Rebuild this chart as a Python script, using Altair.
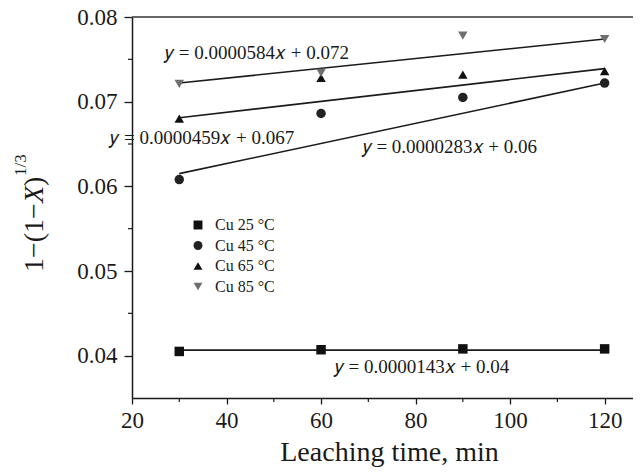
import altair as alt
import pandas as pd

SERIF = "Liberation Serif"
INK = "#1a1a1a"

# ---- data ----
times = [30, 60, 90, 120]
series = ["Cu 25 °C", "Cu 45 °C", "Cu 65 °C", "Cu 85 °C"]
cu25 = [0.0405, 0.0407, 0.0408, 0.0408]
cu45 = [0.0608, 0.0686, 0.0705, 0.0722]
cu65 = [0.0680, 0.0728, 0.0732, 0.0736]
cu85 = [0.0721, 0.0734, 0.0778, 0.0774]

# fitted lines (end points as drawn)
fit_x = [30, 120]
fit25 = [0.04065, 0.04065]
fit45 = [0.0615, 0.0722]
fit65 = [0.0681, 0.0739]
fit85 = [0.0722, 0.0774]

# equation labels
eq_text = [
    "𝑦 = 0.0000143𝑥 + 0.04",
    "𝑦 = 0.0000283𝑥 + 0.06",
    "𝑦 = 0.0000459𝑥 + 0.067",
    "𝑦 = 0.0000584𝑥 + 0.072",
]
eq_x = [62.9, 68.8, 15.4, 27.0]
eq_y = [0.03866, 0.06467, 0.0657, 0.07574]

x_ticks = [20, 40, 60, 80, 100, 120]
x_minor = [30, 50, 70, 90, 110]
y_ticks = [0.04, 0.05, 0.06, 0.07, 0.08]
y_minor = [0.045, 0.055, 0.065, 0.075]

X_DOMAIN = [20, 126]
Y_DOMAIN = [0.035, 0.08]
W, H = 501, 381

# ---- tables ----
vals = [cu25, cu45, cu65, cu85]
pts = pd.DataFrame(
    [{"t": t, "v": v, "s": s} for s, vs in zip(series, vals) for t, v in zip(times, vs)]
)
fits = [fit25, fit45, fit65, fit85]
lines = pd.DataFrame(
    [{"t": t, "v": v, "s": s} for s, fs in zip(series, fits) for t, v in zip(fit_x, fs)]
)
eqs = pd.DataFrame({"x": eq_x, "y": eq_y, "txt": eq_text})

xs = alt.Scale(domain=X_DOMAIN, nice=False, zero=False)
ys = alt.Scale(domain=Y_DOMAIN, nice=False, zero=False)

x_axis = alt.Axis(
    values=x_ticks, grid=False, domainColor=INK, domainWidth=1.5, tickColor=INK,
    tickSize=6, tickWidth=1.3, labelFont=SERIF, labelFontSize=23, labelColor=INK,
    labelPadding=5, labelFlush=False, labelOverlap=False,
    title="Leaching time, min", titleFont=SERIF, titleFontSize=28,
    titleFontWeight="normal", titleColor=INK, titleX=257, titleY=62,
    titleBaseline="alphabetic", titleAlign="center",
)
y_axis = alt.Axis(
    values=y_ticks, grid=False, domainColor=INK, domainWidth=1.5, tickColor=INK,
    tickSize=8, tickWidth=1.3, labelFont=SERIF, labelFontSize=23, labelColor=INK,
    labelPadding=7, labelFlush=False, labelOverlap=False, format=".2f", title=None,
)

shape_scale = alt.Scale(domain=series, range=["square", "circle", "triangle-up", "triangle-down"])
color_scale = alt.Scale(domain=series, range=["#111111", "#222222", "#111111", "#6f6f6f"])

fit_layer = alt.Chart(lines).mark_line(color=INK, strokeWidth=1.6).encode(
    x=alt.X("t:Q", scale=xs, axis=x_axis),
    y=alt.Y("v:Q", scale=ys, axis=y_axis),
    detail="s:N",
)

legend = alt.Legend(
    title=None, orient="none", legendX=58, legendY=200, labelFont=SERIF,
    labelFontSize=16, labelColor=INK, labelOffset=9, rowPadding=4.5, padding=0,
    symbolSize=80, symbolStrokeWidth=0,
)
pt_layer = alt.Chart(pts).mark_point(filled=True, size=90, opacity=1).encode(
    x=alt.X("t:Q", scale=xs),
    y=alt.Y("v:Q", scale=ys),
    shape=alt.Shape("s:N", scale=shape_scale, legend=legend),
    color=alt.Color("s:N", scale=color_scale, legend=legend),
)

eq_layer = alt.Chart(eqs).mark_text(
    align="left", baseline="middle", font=SERIF, fontSize=19, color=INK
).encode(x=alt.X("x:Q", scale=xs), y=alt.Y("y:Q", scale=ys), text="txt:N")

top_rule = alt.Chart(pd.DataFrame({"y": [Y_DOMAIN[1]]})).mark_rule(
    color="#333333", strokeWidth=1.6
).encode(y=alt.Y("y:Q", scale=ys), x=alt.value(0), x2=alt.value(W))

xminor_layer = alt.Chart(pd.DataFrame({"t": x_minor})).mark_rule(
    color=INK, strokeWidth=1.2
).encode(x=alt.X("t:Q", scale=xs), y=alt.value(H), y2=alt.value(H + 4))

yminor_layer = alt.Chart(pd.DataFrame({"v": y_minor})).mark_rule(
    color=INK, strokeWidth=1.2
).encode(y=alt.Y("v:Q", scale=ys), x=alt.value(0), x2=alt.value(-4))


def ytitle(txt, yv, xv, size, italic=False):
    return alt.Chart(pd.DataFrame({"t": [txt]})).mark_text(
        angle=270, align="left", baseline="alphabetic", font=SERIF, fontSize=size,
        fontStyle="italic" if italic else "normal", color=INK,
    ).encode(x=alt.value(xv), y=alt.value(yv), text="t:N")


title_layers = [
    ytitle("1−(1−", 255, -89, 28),
    ytitle("X", 186, -89, 28, italic=True),
    ytitle(")", 169, -89, 28),
    ytitle("1/3", 159, -106, 17),
]

chart = alt.layer(
    fit_layer, top_rule, xminor_layer, yminor_layer, eq_layer, pt_layer, *title_layers
).properties(
    width=W, height=H,
    padding={"left": 124, "top": 9, "right": 0, "bottom": 74},
    autosize=alt.AutoSizeParams(type="none"),
    background="white",
).configure_view(stroke=None)

chart.save("out.html", embed_options={"renderer": "svg", "actions": False})
